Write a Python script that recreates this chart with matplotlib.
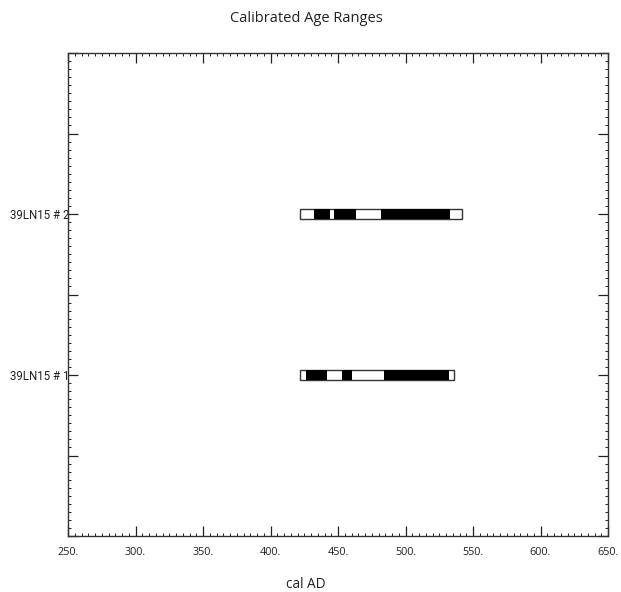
import matplotlib
matplotlib.use("Agg")
import matplotlib.pyplot as plt
from matplotlib.ticker import MultipleLocator

# Calibrated ranges (cal AD): full range and 1-sigma sub ranges
samples = ['39LN15 # 1', '39LN15 # 2']
sample_y = [2, 4]
full_ranges = [(422, 536), (422, 542)]
sigma_ranges = [
    [(426, 442), (453, 460), (484, 532)],
    [(432, 444), (447, 463), (482, 533)],
]

plt.rcParams['font.family'] = ['Open Sans', 'DejaVu Sans']

fig = plt.figure(figsize=(6.21, 5.92), dpi=100)
ax = fig.add_axes([68/621, 1-536/592, 540/621, 483/592])

bar_h = 0.135
for y, (a, b), subs in zip(sample_y, full_ranges, sigma_ranges):
    ax.barh(y, b - a, left=a, height=bar_h, color='white', edgecolor='#333333', linewidth=1.0, zorder=2)
    for s, e in subs:
        ax.barh(y, e - s, left=s, height=bar_h, color='black', edgecolor='none', zorder=3)

ax.set_xlim(250, 650)
ax.set_ylim(0, 6)
ax.set_xticks(range(250, 651, 50))
ax.set_xticklabels([f'{v}.' for v in range(250, 651, 50)])
ax.xaxis.set_minor_locator(MultipleLocator(5))
ax.set_yticks(range(0, 7))
ax.set_yticklabels(['' if v not in sample_y else samples[sample_y.index(v)] for v in range(0, 7)],
                   family=['Roboto', 'DejaVu Sans'])
ax.yaxis.set_minor_locator(MultipleLocator(0.1))

ax.tick_params(which='both', direction='in', top=True, right=True, colors='#222222')
ax.tick_params(which='major', length=7, width=0.9)
ax.tick_params(which='minor', length=2.5, width=0.7)
ax.tick_params(axis='x', pad=8, labelsize=7.8)
ax.tick_params(axis='y', pad=-1, labelsize=8.3)
for sp in ax.spines.values():
    sp.set_color('#333333')
    sp.set_linewidth(1.0)

fig.text(306/621, 1-18/592, 'Calibrated Age Ranges', ha='center', va='center', fontsize=10.5, color='#222222')
fig.text(306/621, 1-585/592, 'cal AD', ha='center', va='center', fontsize=9.8, color='#222222')

fig.savefig('out.png', dpi=100)
